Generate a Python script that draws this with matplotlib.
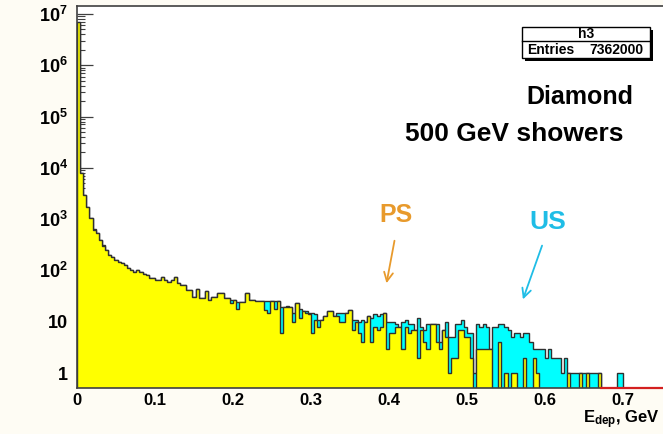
import numpy as np
import matplotlib
matplotlib.use("Agg")
import matplotlib.pyplot as plt
from matplotlib.patches import Rectangle
from matplotlib.lines import Line2D
from matplotlib.ticker import FixedLocator, FixedFormatter, LogLocator, NullFormatter

plt.rcParams['font.family'] = 'Liberation Sans'
plt.rcParams['font.weight'] = 'bold'
plt.rcParams['mathtext.fontset'] = 'custom'
plt.rcParams['mathtext.rm'] = 'Liberation Sans:bold'
plt.rcParams['mathtext.it'] = 'Liberation Sans:bold'
plt.rcParams['mathtext.bf'] = 'Liberation Sans:bold'

# histogram contents, bin width 0.004 GeV starting at 0
bin_width = 0.004
ps_counts = [
    7000000, 7900, 2950, 1730, 1050, 620, 530, 390, 300, 250,
    200, 180, 160, 145, 140, 127, 112, 100, 93, 100,
    95, 85, 80, 72, 70, 65, 66, 74, 64, 60,
    66, 74, 57, 52, 52, 41, 41, 30, 43, 29,
    29, 40, 27, 31, 31, 36, 36, 29, 29, 23,
    27, 18, 24, 24, 36, 27, 27, 25, 25, 25,
    17, 15, 25, 18, 25, 6, 19, 19, 19, 10,
    23, 12, 16, 15, 14, 6, 11, 8, 11, 13,
    16, 16, 13, 13, 10, 10, 15, 17, 7, 10,
    6, 4, 10, 13, 4, 8, 7, 8, 15, 3,
    6, 6, 8, 8, 3, 8, 6, 7, 7, 2,
    7, 4, 3, 9, 9, 4, 3, 7, 5, 1,
    2, 2, 7, 7, 5, 5, 2, 0, 3, 3,
    3, 3, 3, 0, 0, 4, 0, 1, 0, 1,
    1, 0, 0, 2, 0, 0, 2, 1, 0, 0,
    0, 0, 0, 0, 0, 0, 0, 1, 0, 0,
    0, 1, 0, 1, 0, 0, 0, 1, 0, 0,
    0, 0, 0, 0, 0, 0, 0, 0, 0, 0,
]
us_counts = [
    6800000, 7900, 2950, 1730, 1050, 640, 530, 390, 310, 250,
    200, 186, 160, 145, 140, 127, 112, 100, 93, 100,
    95, 85, 80, 72, 70, 65, 66, 74, 64, 60,
    66, 74, 57, 52, 52, 41, 41, 30, 43, 29,
    29, 40, 27, 31, 31, 36, 36, 29, 29, 27,
    27, 24, 24, 24, 36, 27, 27, 25, 25, 25,
    25, 25, 25, 25, 25, 19, 19, 20, 19, 15,
    23, 18, 16, 16, 15, 15, 14, 11, 11, 13,
    16, 16, 13, 15, 15, 15, 15, 17, 11, 11,
    10, 11, 10, 13, 12, 14, 13, 14, 15, 10,
    10, 10, 9, 8, 10, 11, 9, 9, 7, 12,
    8, 7, 9, 9, 9, 9, 4, 7, 10, 5,
    5, 9, 9, 11, 8, 6, 6, 1, 9, 8,
    9, 8, 3, 8, 8, 9, 9, 8, 7, 5,
    6, 6, 5, 6, 6, 4, 3, 3, 3, 3,
    2, 3, 2, 2, 2, 1, 2, 1, 1, 1,
    1, 1, 1, 1, 1, 1, 1, 1, 0, 0,
    0, 0, 0, 1, 1, 0, 0, 0, 0, 0,
]
entries = 7362000
x_ticks = [0, 0.1, 0.2, 0.3, 0.4, 0.5, 0.6, 0.7]
x_labels = ['0', '0.1', '0.2', '0.3', '0.4', '0.5', '0.6', '0.7']
y_ticks = [1, 10, 1e2, 1e3, 1e4, 1e5, 1e6, 1e7]
y_labels = ['1', '10', '$10^{2}$', '$10^{3}$', '$10^{4}$', '$10^{5}$', '$10^{6}$', '$10^{7}$']

W, H = 663, 434
def fp(x, y):
    # figure pixel (from top-left) -> figure fraction
    return x / W, 1 - y / H

fig = plt.figure(figsize=(W / 100, H / 100), dpi=100, facecolor='#fefcf4')
ax = fig.add_axes([77 / W, 46 / H, 624 / W, 382 / H])
ax.set_facecolor('white')

ps = np.array(ps_counts, dtype=float)
us = np.array(us_counts, dtype=float)
edges = np.arange(len(ps) + 1) * bin_width
floor = 1e-3
ps_v = np.where(ps > 0, ps, floor)
us_v = np.where(us > 0, us, floor)

outline = '#303030'
ax.stairs(us_v, edges, baseline=floor, fill=True, color='#00ffff', zorder=2)
ax.stairs(us_v, edges, baseline=floor, color=outline, lw=1.0, zorder=2.1)
ax.stairs(ps_v, edges, baseline=floor, fill=True, color='#ffff00', zorder=2.2)
ax.stairs(ps_v, edges, baseline=floor, color=outline, lw=1.0, zorder=2.3)

ax.set_yscale('log')
ax.set_xlim(0, 0.8)
ax.set_ylim(0.51, 1.43e7)

# red empty-histogram line along the bottom, past the last filled bins
idx = np.arange(len(us))
red_start = edges[np.nonzero((us == 0) & (idx > 150))[0][0]]
ax.plot([red_start, 0.8], [0.51, 0.51], color='#d42020', lw=1.6,
        clip_on=False, zorder=3)

ax.set_axisbelow(True)
ax.yaxis.set_major_locator(FixedLocator(y_ticks))
ax.yaxis.set_major_formatter(FixedFormatter(y_labels))
ax.yaxis.set_minor_locator(LogLocator(base=10, subs=np.arange(2, 10), numticks=20))
ax.yaxis.set_minor_formatter(NullFormatter())
ax.set_xticks(x_ticks)
ax.set_xticklabels(x_labels)
ax.tick_params(axis='y', which='major', direction='in', length=11.5, width=0.9,
               color='#404040', labelsize=13, pad=6.5)
ax.tick_params(axis='y', which='minor', direction='in', length=5.5, width=0.8,
               color='#404040')
ax.tick_params(axis='x', which='both', length=0, labelsize=12, pad=3.5)
for side in ['left', 'top', 'bottom', 'right']:
    ax.spines[side].set_color('#404040')
    ax.spines[side].set_linewidth(1.2)

# stats box
shadow = Rectangle(fp(524.5, 60.5), 128 / W, 31 / H, transform=fig.transFigure,
                   facecolor='black', edgecolor='none', zorder=5)
box = Rectangle(fp(522, 58), 128 / W, 31 / H, transform=fig.transFigure,
                facecolor='white', edgecolor='black', lw=1.0, zorder=6)
fig.patches.extend([shadow, box])
fig.lines.append(Line2D([522 / W, 650 / W], [1 - 41 / H, 1 - 41 / H],
                        transform=fig.transFigure, color='black', lw=1.0, zorder=7))
fig.text(*fp(586, 34), 'h3', fontsize=10, ha='center', va='center', zorder=8)
fig.text(*fp(527, 50), 'Entries', fontsize=10, ha='left', va='center', zorder=8)
fig.text(*fp(644, 50), f'{entries}', fontsize=10, ha='right', va='center', zorder=8)

# annotations
fig.text(*fp(580, 97), 'Diamond', fontsize=18, ha='center', va='center')
fig.text(*fp(514, 134), '500 GeV showers', fontsize=19, ha='center', va='center')
ps_col = '#e89a2c'
us_col = '#1fbde6'
fig.text(*fp(396, 215), 'PS', fontsize=18, color=ps_col, ha='center', va='center')
fig.text(*fp(548, 222), 'US', fontsize=19, color=us_col, ha='center', va='center')
ax.annotate('', xy=(386, H - 286), xytext=(395, H - 238), xycoords='figure pixels',
            textcoords='figure pixels',
            arrowprops=dict(arrowstyle='->', color=ps_col, lw=1.3, mutation_scale=16))
ax.annotate('', xy=(522, H - 302), xytext=(543, H - 243), xycoords='figure pixels',
            textcoords='figure pixels',
            arrowprops=dict(arrowstyle='->', color=us_col, lw=1.3, mutation_scale=16))

fig.text(*fp(660, 423), r'$\mathrm{E_{dep}}$, GeV', fontsize=12, ha='right',
         va='baseline')

fig.savefig('out.png', dpi=100, facecolor=fig.get_facecolor())
